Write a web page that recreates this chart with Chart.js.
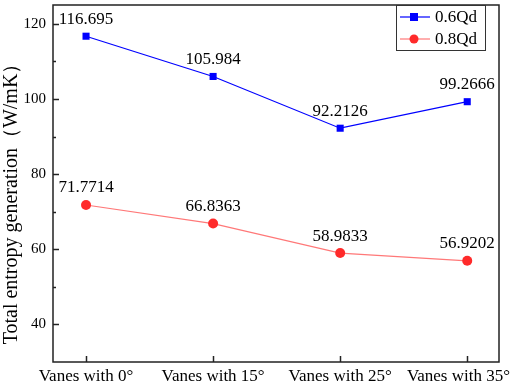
<!DOCTYPE html>
<html>
<head>
<meta charset="utf-8">
<script src="https://cdn.jsdelivr.net/npm/chart.js@4"></script>
<style>
  html, body { margin: 0; padding: 0; background: #fff; }
  #wrap { width: 512px; height: 385px; }
</style>
</head>
<body>
<div id="wrap"><canvas id="chart" width="512" height="385"></canvas></div>
<script>
// data ------------------------------
var categories = ['Vanes with 0°', 'Vanes with 15°', 'Vanes with 25°', 'Vanes with 35°'];
var q06 = [116.695, 105.984, 92.2126, 99.2666];
var q08 = [71.7714, 66.8363, 58.9833, 56.9202];
var seriesNames = ['0.6Qd', '0.8Qd'];
var yTicks = [40, 60, 80, 100, 120];
var yTitle = 'Total entropy generation（W/mK）';

var FONT = "'Liberation Serif', 'Times New Roman', serif";
var BLUE = '#0000ff', RED_LINE = '#ff7878', RED_PT = '#ff2a2a';

const toPoints = (arr) => arr.map((v, i) => ({x: i, y: v}));

// inward ticks, frame, category labels, value labels, axis title and legend box
var decor = {
    id: 'decor',
    afterDraw(chart) {
        const ctx = chart.ctx, a = chart.chartArea;
        const xs = chart.scales.x, ys = chart.scales.y;
        ctx.save();
        ctx.strokeStyle = '#222';
        ctx.lineWidth = 1.5;
        ctx.strokeRect(a.left, a.top, a.right - a.left, a.bottom - a.top);
        for (let v = 40; v <= 120; v += 10) {
            let py = Math.round(ys.getPixelForValue(v)) + 0.5;
            let len = (v % 20 == 0) ? 6 : 3;
            ctx.beginPath();
            ctx.moveTo(a.left, py); ctx.lineTo(a.left + len, py);
            ctx.stroke();
        }
        for (let i = 0; i < categories.length; i++) {
            let px = Math.round(xs.getPixelForValue(i)) + 0.5;
            ctx.beginPath();
            ctx.moveTo(px, a.bottom); ctx.lineTo(px, a.bottom - 6);
            ctx.stroke();
        }
        ctx.fillStyle = '#000';
        ctx.textBaseline = 'middle';
        // category labels, kept inside the canvas like the original
        ctx.font = '17px ' + FONT;
        ctx.textAlign = 'center';
        categories.forEach((c, i) => {
            let px = xs.getPixelForValue(i);
            let w = ctx.measureText(c).width;
            px = Math.min(px, chart.width - 2 - w / 2);
            ctx.fillText(c, px, a.bottom + 15);
        });
        // value labels
        [q06, q08].forEach((arr) => {
            arr.forEach((v, i) => {
                let px = xs.getPixelForValue(i), py = ys.getPixelForValue(v);
                ctx.fillText(String(v), px, py - 17);
            });
        });
        // y title (sits a bit below the plot centre in the original)
        ctx.save();
        ctx.translate(12, 199);
        ctx.rotate(-Math.PI / 2);
        ctx.font = '20px ' + FONT;
        ctx.fillText(yTitle, 0, 0);
        ctx.restore();
        // legend
        let lx = 396, ly = 5, lw = 89, lh = 45;
        ctx.fillStyle = '#fff';
        ctx.fillRect(lx, ly, lw, lh);
        ctx.strokeStyle = '#333';
        ctx.lineWidth = 1;
        ctx.strokeRect(lx + 0.5, ly + 0.5, lw, lh);
        let rows = [[BLUE, BLUE, 'rect'], [RED_LINE, RED_PT, 'circle']];
        rows.forEach((r, k) => {
            let cy = ly + 12 + k * 22;
            ctx.strokeStyle = r[0];
            ctx.lineWidth = 1.2;
            ctx.beginPath();
            ctx.moveTo(lx + 4, cy); ctx.lineTo(lx + 34, cy);
            ctx.stroke();
            ctx.fillStyle = r[1];
            if (r[2] == 'rect') ctx.fillRect(lx + 14, cy - 4, 8, 8);
            else { ctx.beginPath(); ctx.arc(lx + 18, cy, 4.5, 0, Math.PI * 2); ctx.fill(); }
            ctx.fillStyle = '#000';
            ctx.font = '17px ' + FONT;
            ctx.textAlign = 'left';
            ctx.fillText(seriesNames[k], lx + 39, cy + 1);
        });
        ctx.restore();
    }
};

var myChart = new Chart(document.getElementById('chart'), {
    type: 'line',
    data: {
        datasets: [
            {
                label: seriesNames[0],
                data: toPoints(q06),
                borderColor: BLUE,
                backgroundColor: BLUE,
                borderWidth: 1.2,
                pointStyle: 'rect',
                pointRadius: 5,
                pointBorderWidth: 0,
                tension: 0
            },
            {
                label: seriesNames[1],
                data: toPoints(q08),
                borderColor: RED_LINE,
                backgroundColor: RED_PT,
                pointBackgroundColor: RED_PT,
                borderWidth: 1.2,
                pointStyle: 'circle',
                pointRadius: 5,
                pointBorderWidth: 0,
                tension: 0
            }
        ]
    },
    options: {
        responsive: false,
        animation: false,
        layout: { padding: { top: 2, right: 13, left: 0, bottom: 0 } },
        plugins: {
            legend: { display: false },
            tooltip: { enabled: false }
        },
        scales: {
            x: {
                type: 'linear',
                min: -0.26,
                max: 3.25,
                afterFit: (s) => { s.height = 23; s.paddingLeft = 0; s.paddingRight = 0; },
                afterBuildTicks: (s) => { s.ticks = categories.map((c, i) => ({value: i})); },
                grid: { display: false, drawTicks: false },
                border: { display: false },
                ticks: { display: false }
            },
            y: {
                min: 30,
                max: 125,
                afterFit: (s) => { s.width = 53; s.paddingTop = 0; s.paddingBottom = 0; },
                afterBuildTicks: (s) => { s.ticks = yTicks.map((v) => ({value: v})); },
                grid: { display: false, drawTicks: false },
                border: { display: false },
                ticks: {
                    padding: 7,
                    color: '#000',
                    font: { family: FONT, size: 15 }
                }
            }
        }
    },
    plugins: [decor]
});
</script>
</body>
</html>
